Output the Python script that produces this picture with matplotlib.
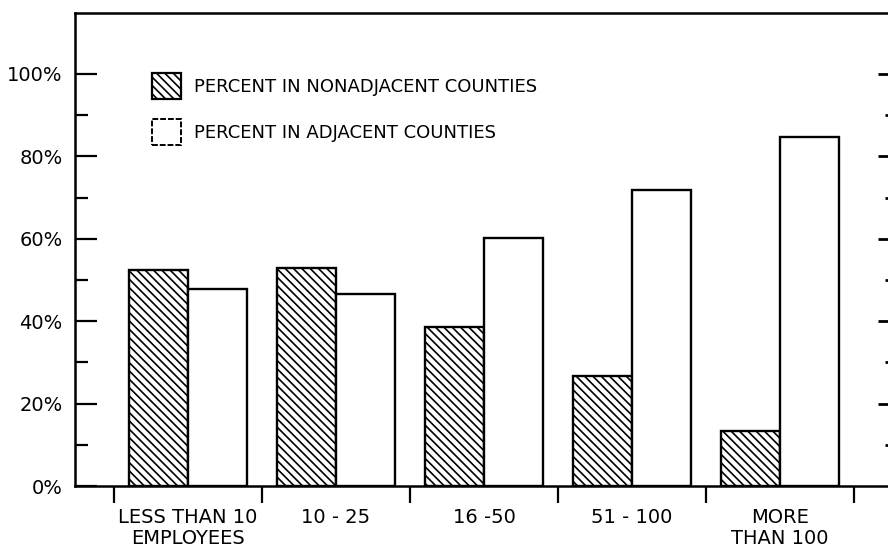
import matplotlib
matplotlib.use("Agg")
import matplotlib.pyplot as plt
import numpy as np
from matplotlib.patches import Patch
from matplotlib.ticker import FixedLocator

categories = ["LESS THAN 10\nEMPLOYEES", "10 - 25", "16 -50", "51 - 100", "MORE\nTHAN 100"]
pct_nonadjacent = [52.5, 52.8, 38.5, 26.6, 13.3]
pct_adjacent = [47.9, 46.7, 60.3, 71.9, 84.7]
ytick_values = [0, 20, 40, 60, 80, 100]
ytick_labels = ["0%", "20%", "40%", "60%", "80%", "100%"]
legend_labels = ["PERCENT IN NONADJACENT COUNTIES", "PERCENT IN ADJACENT COUNTIES"]

plt.rcParams["hatch.linewidth"] = 1.2
plt.rcParams["hatch.color"] = "black"
plt.rcParams["font.family"] = ["DejaVu Sans"]

fig = plt.figure(figsize=(8.88, 5.57), dpi=100)
ax = fig.add_axes([75 / 888, 71 / 557, 1 - 75 / 888, 473 / 557])

x = np.arange(len(categories))
ax.bar(x - 0.4, pct_nonadjacent, width=0.4, align="edge", facecolor="white",
       edgecolor="black", linewidth=1.7, hatch="\\\\\\\\")
ax.bar(x, pct_adjacent, width=0.4, align="edge", facecolor="white",
       edgecolor="black", linewidth=1.7)

ax.set_xlim(-0.764, 4.73)
ax.set_ylim(0, 114.8)

for s in ["left", "top", "bottom"]:
    ax.spines[s].set_linewidth(1.8)
ax.spines["right"].set_visible(False)

# x axis
ax.set_xticks(x)
ax.set_xticklabels(categories, fontsize=14, linespacing=1.1)
ax.xaxis.set_minor_locator(FixedLocator(np.arange(-0.5, len(categories), 1.0)))
ax.tick_params(axis="x", which="major", length=0, pad=16)
ax.tick_params(axis="x", which="minor", direction="out", length=12, width=1.6)

# y axis
ax.set_yticks(ytick_values)
ax.set_yticklabels(ytick_labels, fontsize=14)
ax.yaxis.set_minor_locator(FixedLocator([10, 30, 50, 70, 90]))
ax.tick_params(axis="y", which="major", direction="in", length=16, width=1.6, pad=9)
ax.tick_params(axis="y", which="minor", direction="in", length=9, width=1.6)

# right side ticks
ax2 = ax.twinx()
ax2.set_ylim(ax.get_ylim())
for s in ax2.spines.values():
    s.set_visible(False)
ax2.set_yticks([20, 40, 60, 80, 100])
ax2.yaxis.set_minor_locator(FixedLocator([10, 30, 50, 70, 90]))
ax2.tick_params(axis="y", which="major", direction="in", length=7, width=2, labelright=False)
ax2.tick_params(axis="y", which="minor", direction="in", length=2, width=2)

handles = [
    Patch(facecolor="white", edgecolor="black", linewidth=1.6, hatch="\\\\\\\\"),
    Patch(facecolor="white", edgecolor="black", linewidth=1.4, linestyle=(0, (3, 1))),
]
ax.legend(handles, legend_labels, loc="upper left",
          bbox_to_anchor=(152 / 888, 1 - 73 / 557), bbox_transform=fig.transFigure,
          frameon=False, borderpad=0, borderaxespad=0,
          fontsize=13, handlelength=1.6, handleheight=1.84,
          handletextpad=0.72, labelspacing=1.12)

fig.savefig("out.png", dpi=100)
